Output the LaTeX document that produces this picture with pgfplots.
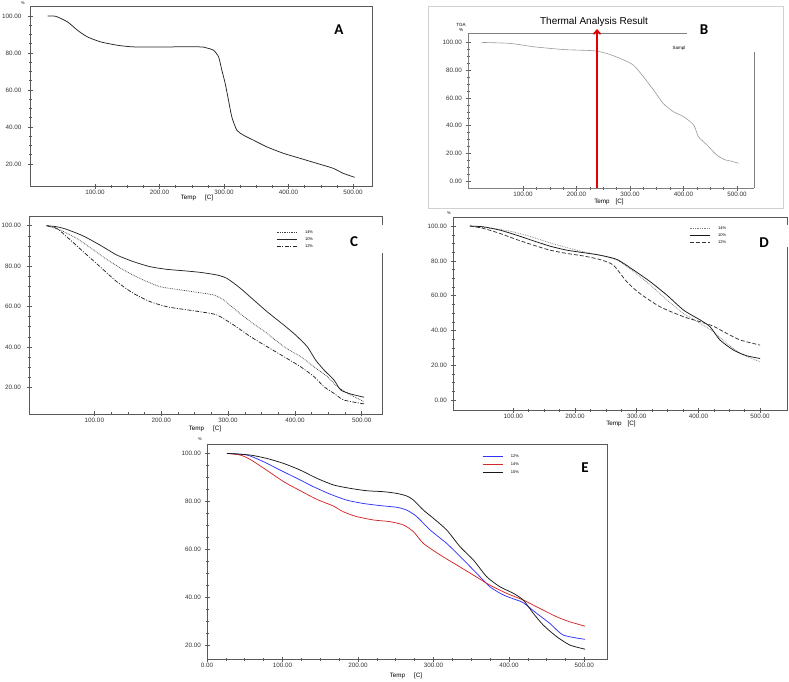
\documentclass[border=0pt]{standalone}
\usepackage{fontspec}
\setmainfont{Liberation Sans}
\newfontfamily\carlito{Carlito}
\usepackage{pgfplots}
\pgfplotsset{compat=1.18}
\usetikzlibrary{arrows.meta}

\definecolor{eblue}{RGB}{50,50,250}
\definecolor{ered}{RGB}{210,40,40}
\newcommand{\tickfont}{\fontsize{6.3}{7}\selectfont}
\newcommand{\legfont}{\fontsize{4}{4.6}\selectfont}
\newcommand{\panel}{\carlito\bfseries\fontsize{15}{16}\selectfont}

\pgfplotsset{
  tga/.style={
    scale only axis, anchor=north west,
    axis line style={draw=black!65, line width=0.7pt},
    every tick/.style={draw=black!65, line width=0.5pt},
    tick align=center, major tick length=5pt, minor tick length=3pt,
    tick pos=left,
    minor x tick num=3, minor y tick num=3,
    ticklabel style={font=\tickfont, text=black!80,
      /pgf/number format/fixed, /pgf/number format/fixed zerofill,
      /pgf/number format/precision=2, /pgf/number format/assume math mode=true},
    xticklabel style={inner sep=1pt},
    xtick={100,200,300,400,500},
    ytick={0,20,40,60,80,100},
    every axis plot/.append style={line width=0.75pt, smooth, tension=0.4},
  },
  leg/.style={
    legend cell align=left,
    legend style={draw=none, fill=none, font=\legfont, inner sep=0pt,
      row sep=0pt, column sep=8pt,
      nodes={inner sep=0pt, text height=4.5pt, text depth=2.5pt}},
    legend image code/.code={\draw[##1] (0pt,0pt) -- (20pt,0pt);},
  },
}

\begin{document}
\begin{tikzpicture}
\path[use as bounding box] (0pt,0pt) rectangle (789pt,-681pt);

% ---------- A
\begin{axis}[tga, at={(30pt,-6pt)}, width=342pt, height=180pt,
  xmin=-1, xmax=529.5, ymin=8.1, ymax=105.4,
  ytick={20,40,60,80,100}, yticklabel style={xshift=-2.5pt}]
\addplot[black!85] coordinates {
 (26.3,100) (39.1,99.8) (57.2,96.8) (72.6,92.3) (88.1,88.7) (108.7,86.0)
 (134.4,84.2) (160.1,83.3) (211.6,83.3) (263.1,83.3) (273.4,82.7) (283.7,81.5)
 (291.5,77.9) (296.6,70.7) (301.8,63.5) (306.9,54.5) (312.0,45.5) (319.8,38.3)
 (330.1,35.6) (345.5,32.9) (366.1,29.3) (391.9,25.8) (417.6,23.1) (443.4,20.4)
 (469.1,17.7) (484.6,15.0) (502.6,12.8)};
\end{axis}
\node[font=\tickfont] at (197pt,-198pt) {Temp\hspace{9pt}[C]};
\node[font=\fontsize{4}{5}\selectfont] at (23pt,-3pt) {\%};
\node[font=\panel] at (339pt,-30pt) {A};

% ---------- B
\draw[black!18, line width=0.8pt] (428pt,-6pt) rectangle (783pt,-208pt);
\begin{axis}[tga, at={(468pt,-33pt)}, width=286pt, height=155pt,
  xmin=-2.8, xmax=531.8, ymin=-5.1, ymax=107,
  axis x line*=bottom, axis y line*=left, clip=false,
  axis line style={draw=black!50, line width=0.6pt}]
\addplot[black!40, line width=0.6pt] coordinates {
 (22,100.2) (75,99.5) (119,97.1) (150,95.9) (181,94.9) (231,94.2) (256,92.3)
 (281,88.7) (306,83.9) (325,75.4) (344,65.8) (362,56.1) (381,50.1) (400,46.5)
 (419,40.5) (428,32) (444,26) (462,18.8) (478,15.2) (487,14.5) (503,12.8)};
\draw[black!50, line width=0.6pt] (rel axis cs:0,1) -- (rel axis cs:0.766,1);
\draw[black!50, line width=0.6pt] (rel axis cs:1,0) -- (rel axis cs:1,0.877);
\end{axis}
\node[font=\tickfont] at (609pt,-201.5pt) {Temp\hspace{6pt}[C]};
\node[font=\fontsize{10}{12}\selectfont] at (594pt,-22pt) {Thermal Analysis Result};
\node[font=\fontsize{4.5}{5}\selectfont, align=center] at (461pt,-27pt) {TGA\\\%};
\node[font=\fontsize{4.5}{5}\selectfont] at (679pt,-48pt) {Sampl};
\node[font=\panel] at (704pt,-30pt) {B};

% ---------- C
\begin{axis}[tga, leg, at={(29pt,-216pt)}, width=353pt, height=198pt,
  xmin=2.2, xmax=530.3, ymin=6.8, ymax=104.8,
  ytick={20,40,60,80,100}, yticklabel style={xshift=-2pt},
  legend style={at={(0.70,0.934)}, anchor=north west}]
\addplot[black!75, densely dotted] coordinates {
 (28.5,100) (48.5,97.9) (73.5,93.7) (98.5,88.0) (123.5,82.2) (148.5,77.2)
 (173.5,73.1) (198.5,69.8) (223.5,68.5) (248.5,67.3) (278.5,65.7) (293.5,63.2)
 (308.5,59.1) (333.5,52.5) (358.5,46.7) (383.5,40.1) (408.5,35.2) (428.5,30.2)
 (448.5,25.3) (463.5,20.3) (483.5,16.2) (503.5,12.9)};
\addlegendentry{14\%}
\addplot[black!85] coordinates {
 (28.5,100) (43.5,99.5) (58.5,98.2) (83.5,94.9) (108.5,90.4) (133.5,85.5)
 (158.5,82.2) (183.5,79.7) (208.5,78.4) (233.5,77.7) (258.5,76.9) (283.5,75.6)
 (298.5,73.9) (318.5,69.0) (338.5,63.2) (358.5,57.4) (383.5,50.8) (401,45.9)
 (418.5,40.1) (431,33.5) (443.5,28.6) (458.5,23.6) (468.5,18.7) (483.5,16.7)
 (503.5,15.1)};
\addlegendentry{10\%}
\addplot[black!85, dash pattern=on 4pt off 1.5pt on 1pt off 1.5pt] coordinates {
 (28.5,100) (43.5,98.7) (58.5,94.6) (83.5,87.1) (108.5,79.7) (133.5,72.3)
 (158.5,66.5) (183.5,62.4) (208.5,59.9) (233.5,58.6) (258.5,57.4) (283.5,55.8)
 (308.5,50.8) (333.5,45.1) (358.5,40.1) (383.5,35.2) (408.5,30.2) (428.5,25.3)
 (443.5,20.3) (458.5,17.0) (473.5,13.7) (503.5,11.8)};
\addlegendentry{12\%}
\end{axis}
\fill[white] (335pt,-225pt) rectangle (392pt,-253pt);
\node[font=\panel] at (354pt,-242pt) {C};
\node[font=\tickfont] at (205pt,-429pt) {Temp\hspace{9pt}[C]};

% ---------- D
\begin{axis}[tga, leg, at={(453pt,-217pt)}, width=334pt, height=193pt,
  xmin=2.3, xmax=543.6, ymin=-5.7, ymax=105.2,
  legend style={at={(0.707,0.961)}, anchor=north west}]
\addplot[black!50, densely dotted] coordinates {
 (29.7,100) (78,98.1) (105,96.2) (132,93.5) (159,90.4) (186,87.7) (214,85.2)
 (240,83.3) (268,80.5) (295,73.8) (322,66.1) (349,57.5) (376,49.8) (403,44.1)
 (424,39.3) (446,32.6) (468,26.8) (500,22)};
\addlegendentry{14\%}
\addplot[black!90] coordinates {
 (29.7,100) (51,99.6) (78,97.7) (105,94.8) (132,91.6) (159,88.5) (186,86.2)
 (214,84.7) (240,83.3) (268,80.8) (295,74.7) (322,68) (349,60.3) (376,51.7)
 (403,46) (419,42.1) (435,34.5) (457,28.7) (478,25.5) (500,23.9)};
\addlegendentry{10\%}
\addplot[black!80, dash pattern=on 4pt off 2pt] coordinates {
 (29.7,100) (51,98.7) (78,95.8) (105,92.3) (132,89.1) (159,86.2) (186,84.3)
 (214,82.8) (240,80.8) (262,77.6) (284,68) (305,61.3) (338,53.6) (376,47.9)
 (403,45) (424,42.5) (446,38.3) (468,34.5) (500,31.6)};
\addlegendentry{12\%}
\end{axis}
\fill[white] (745pt,-225pt) rectangle (789pt,-247pt);
\node[font=\panel] at (764pt,-243pt) {D};
\node[font=\tickfont] at (621pt,-424pt) {Temp\hspace{6pt}[C]};
\node[font=\fontsize{4}{5}\selectfont] at (449pt,-213pt) {\%};

% ---------- E
\begin{axis}[tga, leg, at={(207pt,-444pt)}, width=400pt, height=215pt,
  xmin=0, xmax=530, ymin=14.2, ymax=103.9,
  xtick={0,100,200,300,400,500}, ytick={20,40,60,80,100},
  legend style={at={(0.6875,0.963)}, anchor=north west,
    nodes={text height=5pt, text depth=3pt}}]
\addplot[eblue] coordinates {
 (26.5,100) (53,99.3) (75,96.5) (97,93) (119,89.6) (141,86.1) (163,83)
 (185,80.5) (207,79.1) (229.5,78.2) (251.5,77.5) (264.8,76.3) (278,73.6)
 (295.7,68) (317.7,62.4) (340,55.5) (357.5,49.9) (375,44.3) (392.8,40.9)
 (410.4,38.8) (419,37.7) (437,33.2) (454.5,29) (472,24.2) (501,22.4)};
\addlegendentry{12\%}
\addplot[ered] coordinates {
 (26.5,100) (44,99.3) (57,97.5) (79,93) (101.5,88.2) (123.6,84.4) (145.6,80.8)
 (167.7,78) (176.5,76.3) (185.3,75) (198.6,73.6) (220.6,72.2) (242.7,71.5)
 (260.4,70.1) (273.6,67.3) (286.8,62.4) (309,57.6) (331,53.4) (353,49.2)
 (375,45) (397,41.6) (419,38.8) (441,35.3) (463.4,31.8) (481,29.7) (500.9,27.9)};
\addlegendentry{14\%}
\addplot[black!90] coordinates {
 (26.5,100) (57,99.3) (79,97.9) (101.5,95.8) (123.6,93) (145.6,89.6)
 (167.7,86.8) (189.8,85.4) (211.8,84.4) (234,84) (251.5,83.3) (264.8,82.2)
 (273.6,80.5) (286.8,76.3) (300,72.9) (317.7,68) (335.4,61) (353,55.5)
 (370.7,48.5) (388.3,44.3) (406,41.6) (419,38.8) (432.5,33.2) (445.7,28.3)
 (463.4,23.5) (481,20) (500.9,18.3)};
\addlegendentry{10\%}
\end{axis}
\node[font=\panel] at (585pt,-468pt) {E};
\node[font=\tickfont] at (406pt,-676pt) {Temp\hspace{9pt}[C]};
\node[font=\fontsize{4}{5}\selectfont] at (200pt,-439pt) {\%};

% ---------- red marker in B
\draw[red!90!black, line width=1.6pt, -{Straight Barb[length=4pt,width=7pt]}]
  (597pt,-188pt) -- (597pt,-29pt);
\end{tikzpicture}
\end{document}
